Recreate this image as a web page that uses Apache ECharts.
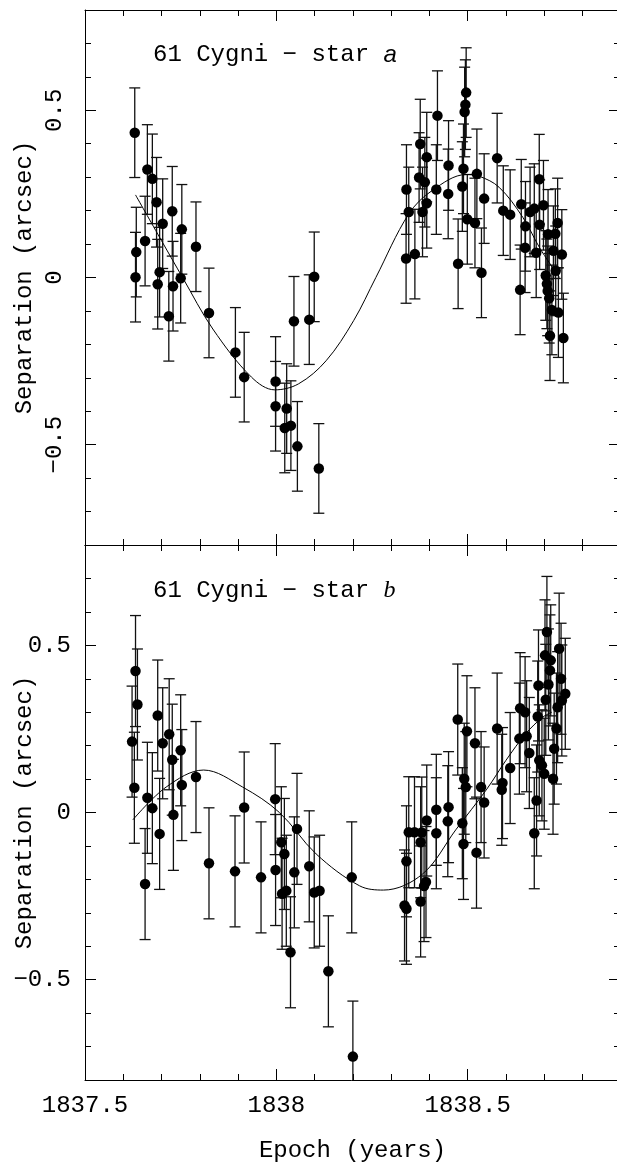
<!DOCTYPE html>
<html><head><meta charset="utf-8">
<script src="https://cdn.jsdelivr.net/npm/echarts@6/dist/echarts.min.js"></script>
<style>html,body{margin:0;padding:0;background:#fff}#c{width:617px;height:1165px}</style>
</head><body><div id="c"></div>
<script>
// ---- axis ranges & tick labels ----
const xMin = 1837.5, xMax = 1838.898;
const yMin = -0.8, yMax = 0.8;
const xTickLabels = [1837.5, 1838, 1838.5];
const yTickLabels = [-0.5, 0, 0.5];
const xAxisTitle = 'Epoch (years)';
const yAxisTitle = 'Separation (arcsec)';
const topTitle = '61 Cygni \u2212 star ';
const topStar = 'a';
const botTitle = '61 Cygni \u2212 star ';
const botStar = 'b';

// ---- star a (top panel) ----
const topX = [1837.630,1837.634,1837.632,1837.663,1837.657,1837.676,1837.687,1837.703,1837.695,1837.690,1837.728,1837.730,1837.719,1837.753,1837.750,1837.790,1837.824,1837.893,1837.916,1837.998,1837.998,1838.027,1838.022,1838.038,1838.055,1838.046,1838.086,1838.099,1838.111,
1838.340,1838.346,1838.339,1838.362,1838.376,1838.373,1838.382,1838.393,1838.388,1838.393,1838.421,1838.418,1838.450,1838.449,1838.496,1838.494,1838.492,1838.489,1838.486,1838.475,1838.499,1838.519,1838.524,1838.536,1838.543,1838.577,1838.593,1838.611,1838.640,1838.651,1838.650,1838.637,1838.663,1838.674,1838.687,1838.688,1838.698,1838.679,1838.710,1838.729,1838.735,1838.724,1838.746,1838.704,1838.707,1838.709,1838.713,1838.730,1838.720,1838.737,1838.715,1838.750];
const topY = [0.433,0.076,0.001,0.323,0.109,0.295,0.225,0.161,0.016,-0.020,0.198,-0.026,-0.116,0.144,-0.002,0.092,-0.106,-0.224,-0.298,-0.311,-0.385,-0.392,-0.450,-0.443,-0.505,-0.131,-0.126,0.002,-0.571,
0.263,0.196,0.057,0.070,0.399,0.299,0.196,0.360,0.285,0.222,0.484,0.263,0.335,0.250,0.553,0.517,0.495,0.325,0.272,0.041,0.174,0.163,0.310,0.014,0.236,0.357,0.200,0.188,0.219,0.153,0.089,-0.037,0.196,0.206,0.294,0.158,0.216,0.074,0.129,0.131,0.163,0.080,0.069,0.006,-0.019,-0.040,-0.062,0.020,-0.097,-0.105,-0.174,-0.181];
const topErr = 0.134;
const topFitX = [1837.632,1837.700,1837.755,1837.834,1837.935,1837.996,1838.058,1838.130,1838.202,1838.260,1838.346,1838.407,1838.496,1838.530,1838.582,1838.644,1838.690,1838.740];
const topFitY = [0.247,0.110,0.000,-0.154,-0.298,-0.336,-0.318,-0.249,-0.129,0.000,0.190,0.260,0.308,0.303,0.270,0.180,0.085,0.000];

// ---- star b (bottom panel) ----
const botX = [1837.632,1837.637,1837.623,1837.629,1837.663,1837.657,1837.676,1837.695,1837.690,1837.703,1837.720,1837.728,1837.731,1837.750,1837.753,1837.790,1837.824,1837.892,1837.916,1837.960,1837.997,1837.998,1838.013,1838.021,1838.015,1838.026,1838.054,1838.047,1838.037,1838.086,1838.099,1838.113,1838.136,1838.197,1838.200,
1838.335,1838.340,1838.340,1838.346,1838.361,1838.377,1838.380,1838.377,1838.386,1838.391,1838.393,1838.418,1838.418,1838.448,1838.450,1838.474,1838.486,1838.489,1838.491,1838.495,1838.498,1838.519,1838.523,1838.535,1838.543,1838.577,1838.589,1838.591,1838.611,1838.635,1838.637,1838.650,1838.654,1838.661,1838.674,1838.680,1838.683,1838.685,1838.687,1838.694,1838.700,1838.702,1838.704,1838.707,1838.711,1838.715,1838.717,1838.723,1838.726,1838.732,1838.735,1838.739,1838.744,1838.746,1838.755];
const botY = [0.423,0.323,0.212,0.074,0.044,-0.214,0.013,-0.064,0.290,0.207,0.234,0.158,-0.007,0.186,0.082,0.106,-0.152,-0.176,0.015,-0.194,0.040,-0.172,-0.089,-0.124,-0.243,-0.234,-0.049,-0.179,-0.418,-0.161,-0.239,-0.234,-0.475,-0.194,-0.730,
-0.278,-0.288,-0.146,-0.059,-0.059,-0.089,-0.060,-0.266,-0.220,-0.208,-0.024,0.008,-0.062,-0.026,0.016,0.278,-0.032,-0.094,0.101,0.076,0.243,0.207,-0.120,0.076,0.030,0.251,0.068,0.088,0.133,0.221,0.312,0.300,0.228,0.178,-0.062,0.036,0.287,0.380,0.156,0.141,0.116,0.470,0.337,0.540,0.383,0.425,0.455,0.101,0.191,0.251,0.315,0.490,0.400,0.335,0.355];
const botErr = 0.166;
const botFitX = [1837.625,1837.712,1837.810,1837.912,1838.008,1838.104,1838.217,1838.280,1838.382,1838.470,1838.550,1838.600,1838.652,1838.696,1838.720];
const botFitY = [-0.022,0.076,0.127,0.076,0.000,-0.124,-0.219,-0.232,-0.184,-0.050,0.070,0.156,0.236,0.285,0.300];

// ---- styling ----
const FONT = 'Liberation Mono';
const FS = 24;
const INK = '#000';
function fmtNum(v){ const s = String(+(+v).toFixed(2)); return v < 0 ? '\u2212' + s.slice(1) : s; }
const lineSt = {color: INK, width: 1};

function xAxes(gi, withLabels){
  const base = {type:'value', gridIndex:gi, min:xMin, max:xMax, splitLine:{show:false}, scale:true};
  return [
    Object.assign({}, base, {position:'bottom', interval:0.1,
      axisLine:{show:true, onZero:false, lineStyle:lineSt},
      axisTick:{show:true, inside:true, length:6, lineStyle:lineSt},
      axisLabel: withLabels ? {show:true, customValues:xTickLabels, formatter:fmtNum, margin:14, color:INK, fontFamily:FONT, fontSize:FS} : {show:false},
      name: withLabels ? xAxisTitle : '', nameLocation:'middle', nameGap:59, nameMoveOverlap:false,
      nameTextStyle:{color:INK, fontFamily:FONT, fontSize:FS}}),
    Object.assign({}, base, {position:'bottom', axisLine:{show:false, onZero:false},
      axisTick:{show:true, inside:true, length:11, customValues:xTickLabels, lineStyle:lineSt}, axisLabel:{show:false}}),
    Object.assign({}, base, {position:'top', interval:0.1,
      axisLine:{show:true, onZero:false, lineStyle:lineSt},
      axisTick:{show:true, inside:true, length:6, lineStyle:lineSt}, axisLabel:{show:false}}),
    Object.assign({}, base, {position:'top', axisLine:{show:false, onZero:false},
      axisTick:{show:true, inside:true, length:11, customValues:xTickLabels, lineStyle:lineSt}, axisLabel:{show:false}})
  ];
}
function yAxes(gi, rotated){
  const base = {type:'value', gridIndex:gi, min:yMin, max:yMax, splitLine:{show:false}};
  const lab = rotated
    ? {show:true, customValues:yTickLabels, formatter:fmtNum, rotate:90, margin:18, color:INK, fontFamily:FONT, fontSize:FS}
    : {show:true, customValues:yTickLabels, formatter:fmtNum, margin:14, color:INK, fontFamily:FONT, fontSize:FS};
  return [
    Object.assign({}, base, {position:'left', interval:0.1,
      axisLine:{show:true, onZero:false, lineStyle:lineSt},
      axisTick:{show:true, inside:true, length:6, lineStyle:lineSt}, axisLabel:lab,
      name:yAxisTitle, nameLocation:'middle', nameGap:48, nameRotate:90, nameMoveOverlap:false,
      nameTextStyle:{color:INK, fontFamily:FONT, fontSize:FS}}),
    Object.assign({}, base, {position:'left', axisLine:{show:false, onZero:false},
      axisTick:{show:true, inside:true, length:11, customValues:yTickLabels, lineStyle:lineSt}, axisLabel:{show:false}}),
    Object.assign({}, base, {position:'right', interval:0.1,
      axisLine:{show:true, onZero:false, lineStyle:lineSt},
      axisTick:{show:true, inside:true, length:6, lineStyle:lineSt}, axisLabel:{show:false}}),
    Object.assign({}, base, {position:'right', axisLine:{show:false, onZero:false},
      axisTick:{show:true, inside:true, length:11, customValues:yTickLabels, lineStyle:lineSt}, axisLabel:{show:false}})
  ];
}

function errRender(params, api){
  const x = api.value(0), y = api.value(1), e = api.value(2);
  const t = api.coord([x, y + e]);
  const b = api.coord([x, y - e]);
  const hw = 5.5;
  const st = {stroke:'#111', lineWidth:1.3};
  return {type:'group', children:[
    {type:'line', shape:{x1:t[0], y1:t[1], x2:b[0], y2:b[1]}, style:st},
    {type:'line', shape:{x1:t[0]-hw, y1:t[1], x2:t[0]+hw, y2:t[1]}, style:st},
    {type:'line', shape:{x1:b[0]-hw, y1:b[1], x2:b[0]+hw, y2:b[1]}, style:st}
  ]};
}
function panelSeries(ai, xs, ys, err, fx, fy){
  return [
    {type:'custom', xAxisIndex:ai, yAxisIndex:ai, clip:true, silent:true, z:2,
      data: xs.map((x,i)=>[x, ys[i], err]), renderItem: errRender},
    {type:'line', xAxisIndex:ai, yAxisIndex:ai, z:3, silent:true, smooth:0.35, symbol:'none', showSymbol:false,
      data: fx.map((x,i)=>[x, fy[i]]), lineStyle:{color:INK, width:1}},
    {type:'scatter', xAxisIndex:ai, yAxisIndex:ai, z:4, silent:true, symbol:'circle', symbolSize:10.5,
      data: xs.map((x,i)=>[x, ys[i]]), itemStyle:{color:INK, opacity:1}}
  ];
}

const chart = echarts.init(document.getElementById('c'), null, {renderer:'canvas'});
chart.setOption({
  animation:false,
  backgroundColor:'#fff',
  grid:[
    {left:85, top:10, width:535, height:535, containLabel:false, outerBoundsMode:'none'},
    {left:85, top:545, width:535, height:535, containLabel:false, outerBoundsMode:'none'}
  ],
  xAxis: xAxes(0, false).concat(xAxes(1, true)),
  yAxis: yAxes(0, true).concat(yAxes(1, false)),
  series: panelSeries(0, topX, topY, topErr, topFitX, topFitY).concat(panelSeries(4, botX, botY, botErr, botFitX, botFitY)),
  graphic:[
    {type:'text', x:153, y:55, z:10, style:{text: topTitle + '{i|' + topStar + '}', fill:INK, font: FS + 'px "' + FONT + '"', verticalAlign:'middle', align:'left',
      rich:{i:{fontStyle:'italic', fontFamily:'Liberation Sans', fontSize:FS, fill:INK}}}},
    {type:'text', x:153, y:591, z:10, style:{text: botTitle + '{i|' + botStar + '}', fill:INK, font: FS + 'px "' + FONT + '"', verticalAlign:'middle', align:'left',
      rich:{i:{fontStyle:'italic', fontFamily:'Liberation Serif', fontSize:FS, fill:INK}}}}
  ]
});
</script>
</body></html>
